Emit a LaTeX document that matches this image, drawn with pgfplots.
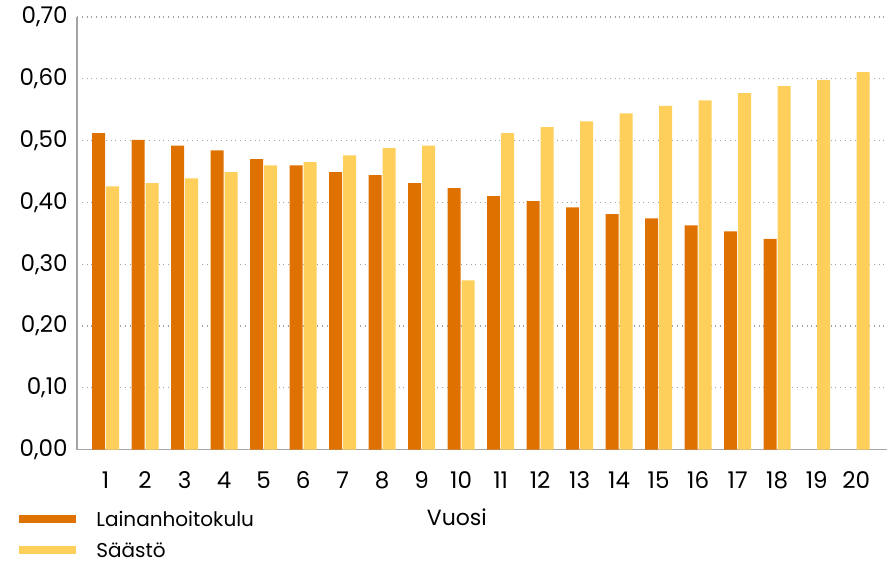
\documentclass[border=0pt]{standalone}
\usepackage{fontspec}
\setmainfont{Poppins}
\usepackage{pgfplots}
\pgfplotsset{compat=1.18}
\definecolor{cOrange}{RGB}{222,113,0}
\definecolor{cYellow}{RGB}{254,207,90}
\definecolor{cGrid}{RGB}{160,160,160}
\definecolor{cAxis}{RGB}{165,165,165}
\begin{document}
\begin{tikzpicture}
\begin{axis}[
  at={(0,0)}, anchor=south west,
  scale only axis,
  width=405pt, height=216.3pt,
  xmin=0.278, xmax=20.78,
  ymin=0, ymax=0.70,
  ytick={0,0.1,0.2,0.3,0.4,0.5,0.6,0.7},
  xtick={1,...,20},
  major tick length=0pt,
  axis x line*=bottom, axis y line*=left,
  axis line style={draw=cAxis, line width=0.8pt, -},
  ymajorgrids,
  grid style={cGrid, dotted, line width=0.6pt},
  ybar=0.5pt, bar width=6.5pt,
  /pgf/number format/assume math mode=true,
  ticklabel style={font=\fontsize{11.5}{13}\selectfont, text=black},
  yticklabel style={anchor=east, inner sep=0pt, xshift=-4.5pt,
    /pgf/number format/.cd, fixed, fixed zerofill, precision=2, use comma},
  xticklabel style={anchor=base, inner sep=0pt, yshift=-19.5pt},
  xticklabels={1,2,3,4,5,6,7,8,9,10,11,12,13,14,15,16,17,18,19,20},
  xlabel={Vuosi},
  xlabel style={at={(axis description cs:0.469,-0.175)}, anchor=base, font=\fontsize{11}{13}\selectfont, inner sep=0pt},
  legend style={at={(axis description cs:-0.0716,-0.142)}, anchor=north west, draw=none, fill=none,
    font=\fontsize{10}{12}\selectfont, row sep=8pt, inner sep=0pt,
    cells={anchor=west}, nodes={inner sep=0pt, text depth=0pt}},
  legend image code/.code={\fill[#1, draw=none] (0pt,-2pt) rectangle (28.5pt,2pt);},
  legend cell align=left,
]
\addplot[fill=cOrange, draw=none] coordinates {
(1,0.512) (2,0.501) (3,0.492) (4,0.484) (5,0.470) (6,0.460) (7,0.449) (8,0.444) (9,0.431) (10,0.423)
(11,0.410) (12,0.402) (13,0.392) (14,0.381) (15,0.374) (16,0.363) (17,0.353) (18,0.341)};
\addlegendentry{\hspace{10pt}Lainanhoitokulu}
\addplot[fill=cYellow, draw=none] coordinates {
(1,0.426) (2,0.431) (3,0.439) (4,0.449) (5,0.460) (6,0.465) (7,0.476) (8,0.488) (9,0.492) (10,0.274)
(11,0.512) (12,0.522) (13,0.531) (14,0.544) (15,0.556) (16,0.565) (17,0.577) (18,0.588) (19,0.598) (20,0.611)};
\addlegendentry{\hspace{10pt}Säästö}
\end{axis}
\pgfresetboundingbox
\path (-38.5pt,-57.85pt) rectangle (405.5pt,224.8pt);
\end{tikzpicture}
\end{document}
